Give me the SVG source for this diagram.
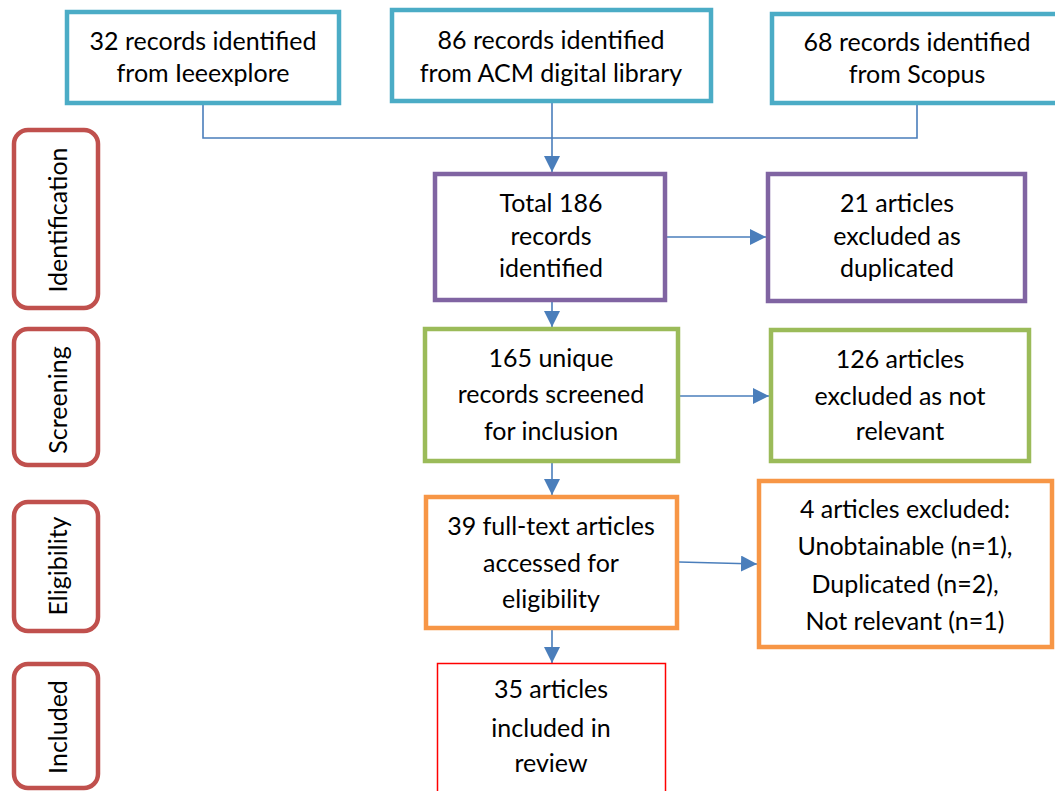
<svg xmlns="http://www.w3.org/2000/svg" width="1055" height="791" viewBox="0 0 1055 791">
<style>
text{font-family:Lato,"Open Sans","Liberation Sans",sans-serif;font-size:25px;fill:#000;text-anchor:middle}
.b{fill:#fff;stroke-width:4.5}
.teal{stroke:#4BACC6}.purple{stroke:#8064A2}.green{stroke:#9BBB59}.orange{stroke:#F79646}
.side{fill:#fff;stroke:#C0504D;stroke-width:4.5}
.fin{fill:#fff;stroke:#FF0000;stroke-width:1.5}
.c{fill:none;stroke:#4A7EBB;stroke-width:1.6}
</style>
<defs>
<marker id="ah" markerUnits="userSpaceOnUse" markerWidth="16" markerHeight="16" refX="16" refY="8" orient="auto">
<path d="M0,0 L16,8 L0,16 z" fill="#4A7EBB"/>
</marker>
</defs>
<rect width="1055" height="791" fill="#fff"/>
<g id="connectors">
<path class="c" d="M203,105 V138 H917 V105"/>
<line class="c" x1="552" y1="103" x2="552" y2="172" marker-end="url(#ah)"/>
<line class="c" x1="667" y1="237" x2="766" y2="237" marker-end="url(#ah)"/>
<line class="c" x1="552" y1="302" x2="552" y2="327" marker-end="url(#ah)"/>
<line class="c" x1="680" y1="396" x2="769" y2="396" marker-end="url(#ah)"/>
<line class="c" x1="552" y1="463" x2="552" y2="495" marker-end="url(#ah)"/>
<line class="c" x1="679" y1="562" x2="757" y2="564" marker-end="url(#ah)"/>
<line class="c" x1="552" y1="630" x2="552" y2="663" marker-end="url(#ah)"/>
</g>
<g id="src1"><rect class="b teal" x="67" y="12" width="272" height="91"/><text x="203" y="50">32 records identified</text><text x="203" y="82">from Ieeexplore</text></g>
<g id="src2"><rect class="b teal" x="392" y="10" width="319" height="91"/><text x="551" y="49">86 records identified</text><text x="551" y="82">from ACM digital library</text></g>
<g id="src3"><rect class="b teal" x="772" y="14" width="290" height="89"/><text x="917" y="51">68 records identified</text><text x="917" y="83">from Scopus</text></g>
<g id="total"><rect class="b purple" x="435" y="174" width="230" height="126"/><text x="551" y="212">Total 186</text><text x="551" y="245">records</text><text x="551" y="277">identified</text></g>
<g id="dup"><rect class="b purple" x="768" y="174" width="257" height="127"/><text x="897" y="212">21 articles</text><text x="897" y="245">excluded as</text><text x="897" y="277">duplicated</text></g>
<g id="screen"><rect class="b green" x="425" y="329" width="253" height="132"/><text x="551" y="367">165 unique</text><text x="551" y="403">records screened</text><text x="551" y="440">for inclusion</text></g>
<g id="notrel"><rect class="b green" x="771" y="330" width="258" height="131"/><text x="900" y="368">126 articles</text><text x="900" y="405">excluded as not</text><text x="900" y="440">relevant</text></g>
<g id="full"><rect class="b orange" x="426" y="497" width="251" height="131"/><text x="551" y="535">39 full-text articles</text><text x="551" y="572">accessed for</text><text x="551" y="608">eligibility</text></g>
<g id="excl"><rect class="b orange" x="759" y="481" width="293" height="166"/><text x="905" y="518">4 articles excluded:</text><text x="905" y="555">Unobtainable (n=1),</text><text x="905" y="593">Duplicated (n=2),</text><text x="905" y="630">Not relevant (n=1)</text></g>
<g id="incl"><rect class="fin" x="437.5" y="663.5" width="228" height="140"/><text x="551" y="698">35 articles</text><text x="551" y="737">included in</text><text x="551" y="772">review</text></g>
<g id="lab-ident"><rect class="side" x="14" y="130" width="84" height="178" rx="14"/><text transform="translate(67,220) rotate(-90)">Identification</text></g>
<g id="lab-screen"><rect class="side" x="14" y="329" width="84" height="136" rx="14"/><text transform="translate(67,400) rotate(-90)">Screening</text></g>
<g id="lab-elig"><rect class="side" x="14" y="502" width="84" height="129" rx="14"/><text transform="translate(67,566) rotate(-90)">Eligibility</text></g>
<g id="lab-incl"><rect class="side" x="14" y="664" width="84" height="124" rx="14"/><text transform="translate(67,727) rotate(-90)">Included</text></g>
</svg>
